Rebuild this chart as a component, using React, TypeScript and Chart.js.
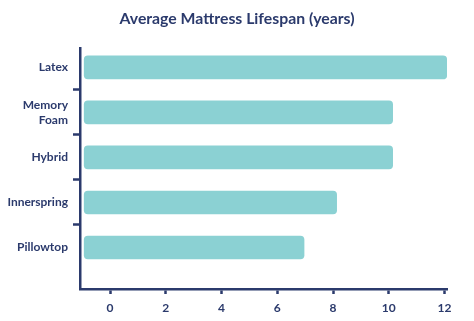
import React, { useEffect, useRef } from "react";
import { Chart, registerables } from "chart.js";

Chart.register(...registerables);

const title = "Average Mattress Lifespan (years)";
const categories: (string | string[])[] = ["Latex", ["Memory", "Foam"], "Hybrid", "Innerspring", "Pillowtop"];
const lifespans = [12.08, 10.14, 10.14, 8.13, 6.96];
const xTicks = [0, 2, 4, 6, 8, 10, 12];

const NAVY = "#2b3a6c";
const TEAL = "#8bd1d3";
const FONT = "Lato, 'Open Sans', sans-serif";

export default function App() {
  const ref = useRef<HTMLCanvasElement | null>(null);
  useEffect(() => {
    if (!ref.current) return;
    const chart = new Chart(ref.current, {
      type: "bar",
      data: {
        labels: categories as any,
        datasets: [
          {
            data: lifespans,
            backgroundColor: TEAL,
            borderRadius: 4,
            borderSkipped: false,
            barThickness: 23,
            base: -0.93,
          } as any,
        ],
      },
      options: {
        indexAxis: "y",
        animation: false,
        responsive: true,
        maintainAspectRatio: false,
        layout: { padding: 0 },
        plugins: {
          legend: { display: false },
          tooltip: { enabled: false },
          title: {
            display: true,
            text: title,
            color: NAVY,
            font: { family: FONT, size: 15.8, weight: "bold", lineHeight: 1.2 },
            padding: { top: 9.5, bottom: 19.5 },
          },
        },
        scales: {
          x: {
            type: "linear",
            min: -1.08,
            max: 12.09,
            afterBuildTicks: (scale: any) => {
              scale.ticks = xTicks.map((v) => ({ value: v }));
            },
            afterFit: (scale: any) => {
              scale.height = 32;
            },
            border: { display: true, color: NAVY, width: 2.5 },
            grid: {
              display: true,
              drawOnChartArea: false,
              drawTicks: true,
              tickLength: 5,
              tickColor: NAVY,
              tickWidth: 2.5,
            },
            ticks: {
              color: NAVY,
              padding: 7,
              font: { family: FONT, size: 12, weight: "bold" },
            },
          },
          y: {
            type: "category",
            offset: true,
            afterBuildTicks: (scale: any) => {
              scale._startValue = -0.433;
              scale._valueRange = 5.356;
            },
            afterFit: (scale: any) => {
              scale.width = 80;
            },
            border: { display: true, color: NAVY, width: 2.5 },
            grid: {
              display: true,
              offset: true,
              drawOnChartArea: false,
              drawTicks: true,
              tickLength: 7,
              tickWidth: 2.5,
              tickColor: (c: any) => (c.index >= 1 && c.index <= 4 ? NAVY : "rgba(0,0,0,0)"),
            },
            ticks: {
              color: NAVY,
              padding: 5,
              font: { family: FONT, size: 12, weight: "bold", lineHeight: 1.25 },
            },
          },
          yRight: {
            type: "category",
            position: "right",
            display: true,
            grid: { display: false },
            border: { display: false },
            ticks: { display: false },
            afterFit: (scale: any) => {
              scale.width = 27;
            },
          },
        },
      } as any,
    });
    return () => chart.destroy();
  }, []);
  return (
    <div style={{ position: "fixed", left: 0, top: 0, width: 474, height: 321, background: "#fff" }}>
      <canvas ref={ref} />
    </div>
  );
}
